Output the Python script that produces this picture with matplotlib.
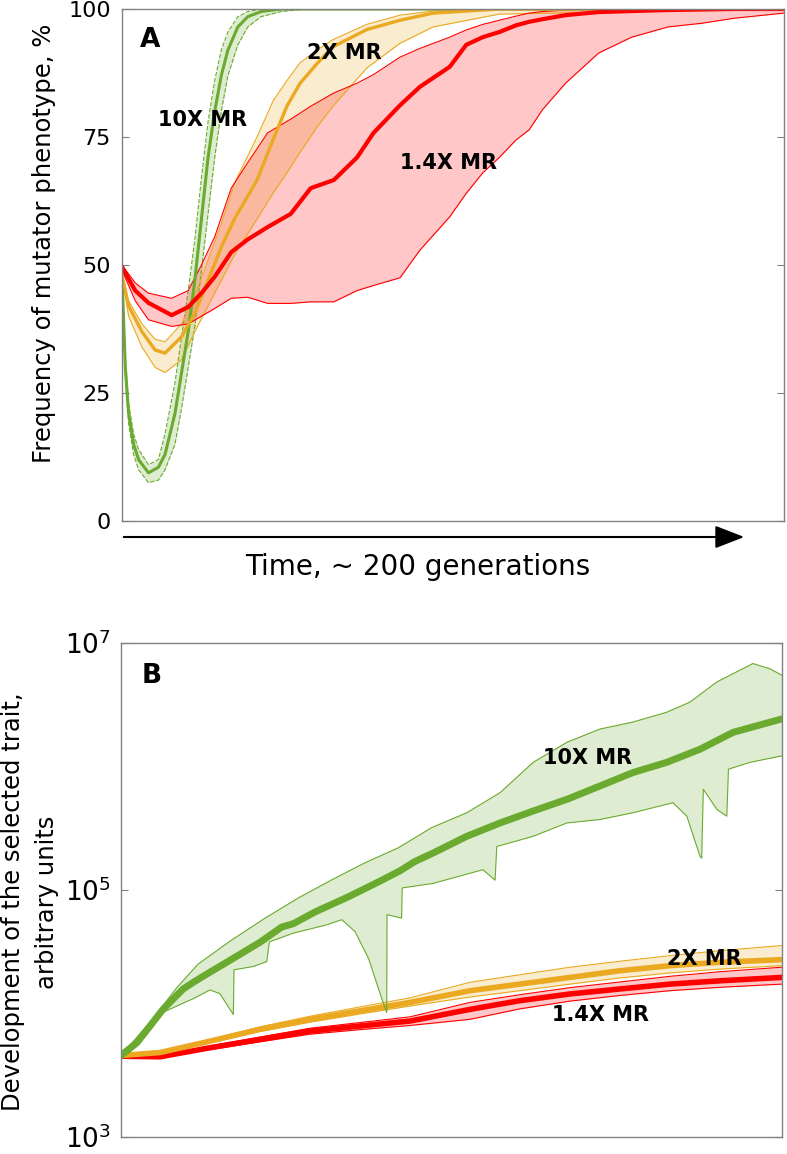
import numpy as np
import matplotlib
matplotlib.use("Agg")
import matplotlib.pyplot as plt
from matplotlib.ticker import NullLocator

# ---------------- panel A: frequency of mutator phenotype, % ----------------
# time axis has no scale in the original, ~200 generations in total
t_green_a = [0, 1, 2, 3.5, 5, 8, 11, 13, 16, 18, 20, 22, 24, 26, 28, 30, 32, 35, 38, 42, 48, 55, 200]
green_a_mid = [48, 30, 21, 15, 12, 9.4, 10.5, 13, 21, 29, 37, 47, 59, 71, 80, 87, 92, 96.5, 98.5, 99.5, 100, 100, 100]
green_a_hi = [48, 32, 23, 17, 14, 11, 12, 17, 27, 36, 45, 55, 67, 78, 86, 92, 95.5, 98.5, 99.5, 100, 100, 100, 100]
green_a_lo = [48, 28, 19, 13, 10, 7.5, 8, 10, 15, 22, 30, 38, 49, 60, 71, 80, 87, 93, 96.5, 98.5, 99.5, 100, 100]

t_orange_a = [0, 2, 6, 10, 13, 18, 22, 26, 30, 34, 40.8, 45.6, 49.8, 53.8, 59, 63.7, 74, 84, 94, 114, 200]
orange_a_mid = [48, 42, 37, 33.4, 32.8, 36, 40.6, 47, 53.5, 59, 66.6, 74.4, 81, 85.5, 89.4, 92.6, 96, 97.8, 99.2, 100, 100]
orange_a_hi = [48, 43, 38.5, 35.5, 35, 38.5, 44, 51, 58, 66, 75, 82, 86, 89.5, 92, 94, 97, 98.8, 99.6, 100, 100]
orange_a_lo = [48, 40, 34, 30, 29, 31.5, 37, 42, 47, 52, 59, 64, 68, 72, 77, 81, 88.5, 93.3, 96.5, 99, 100]

t_red_a = [0, 4, 8, 15, 20, 24, 28, 33, 38, 44, 51, 57, 64, 71, 76, 84, 90, 99, 104, 109, 114,
           119, 123, 127, 134, 144, 154, 165, 175, 185, 200]
red_a_mid = [49.6, 45, 42.6, 40.2, 41.8, 44.5, 47.7, 52.5, 55, 57.4, 60, 65, 66.6, 71, 75.8, 81.2, 84.8,
             88.7, 93, 94.5, 95.5, 96.8, 97.5, 98, 98.8, 99.4, 99.6, 99.8, 99.9, 100, 100]
red_a_hi = [50, 46.5, 44.5, 43.5, 45, 50, 55.5, 65, 70, 75.8, 78.5, 81, 83.6, 85.5, 87.2, 90.6, 92.3,
            94.5, 95.9, 97, 97.8, 98.6, 99.2, 99.5, 99.8, 100, 100, 100, 100, 100, 100]
red_a_lo = [49, 43, 39.3, 38, 38.5, 40, 41.5, 43.5, 43.7, 42.5, 42.5, 42.8, 42.8, 45, 46, 47.5, 52.9,
            59.4, 64, 68, 71, 74.4, 76.4, 80.3, 85.5, 91.4, 94.5, 96.5, 97.2, 98.2, 99.2]

freq_ticks = [0, 25, 50, 75, 100]

# ---------------- panel B: development of the selected trait ----------------
t_green_b = [0, 4.8, 8.8, 12.7, 18.8, 21.9, 26.9, 32, 38.5, 42.1, 48.6, 52.1, 58.7, 68.8, 78.9, 84.4,
             88.9, 94.4, 104.6, 114.7, 124.7, 134.9, 144.9, 154.9, 165.1, 175.2, 185.2, 200]
green_b_mid = [4.57e3, 5.79e3, 7.93e3, 1.08e4, 1.58e4, 1.79e4, 2.16e4, 2.60e4, 3.31e4, 3.78e4, 5.01e4,
               5.33e4, 6.64e4, 8.81e4, 1.20e5, 1.43e5, 1.70e5, 1.99e5, 2.72e5, 3.49e5, 4.36e5, 5.42e5,
               6.95e5, 8.93e5, 1.08e6, 1.38e6, 1.89e6, 2.43e6]

t_green_b_hi = [0, 8.8, 16.9, 23.3, 33.5, 43.6, 53.6, 63.8, 73.8, 83.8, 94, 104.6, 114.7, 124.7, 134.9,
                144.9, 154.9, 165.1, 172.2, 180.3, 191.2, 196.4, 200]
green_b_hi = [4.57e3, 8.51e3, 1.62e4, 2.51e4, 3.94e4, 5.92e4, 8.61e4, 1.21e5, 1.66e5, 2.19e5, 3.20e5,
              4.22e5, 6.14e5, 1.08e6, 1.57e6, 2.01e6, 2.29e6, 2.75e6, 3.33e6, 4.84e6, 6.82e6, 6.17e6, 5.48e6]

# lower bound has saw-tooth collapses, so some times repeat almost exactly
t_green_b_lo = [0, 8.8, 12.7, 16.9, 21.9, 26.9, 29.9, 34.0, 34.2, 40.0, 44.1, 44.9, 52.1, 62.1, 66.8,
                70.8, 74.9, 78.9, 80.4, 80.5, 84.9, 85.1, 94.4, 109.5, 113.2, 113.7, 124.7, 134.9,
                144.9, 154.9, 167, 171.2, 175.2, 175.7, 176.2, 180.3, 183.3, 183.8, 190.3, 200]
green_b_lo = [4.57e3, 7.94e3, 1.02e4, 1.15e4, 1.32e4, 1.55e4, 1.45e4, 9.8e3, 2.26e4, 2.40e4, 2.63e4,
              3.80e4, 4.47e4, 5.21e4, 5.75e4, 4.61e4, 2.79e4, 1.32e4, 1.02e4, 6.31e4, 5.92e4, 1.04e5,
              1.13e5, 1.46e5, 1.20e5, 2.25e5, 2.72e5, 3.49e5, 3.72e5, 4.22e5, 5.09e5, 3.96e5, 1.87e5,
              1.81e5, 6.53e5, 4.49e5, 3.96e5, 9.51e5, 1.08e6, 1.22e6]

t_b = [0, 11.8, 26.9, 42.1, 57.2, 72.3, 87.5, 105.6, 120.7, 135.9, 151.0, 166.1, 181.3, 200]
orange_b_mid = [4.57e3, 4.83e3, 5.97e3, 7.45e3, 8.97e3, 1.05e4, 1.23e4, 1.53e4, 1.73e4, 1.96e4, 2.22e4,
                2.44e4, 2.60e4, 2.73e4]
orange_b_hi = [4.57e3, 4.9e3, 6.15e3, 7.8e3, 9.5e3, 1.13e4, 1.34e4, 1.79e4, 2.06e4, 2.37e4, 2.65e4,
               2.94e4, 3.23e4, 3.55e4]
orange_b_lo = [4.57e3, 4.76e3, 5.8e3, 7.15e3, 8.5e3, 9.9e3, 1.15e4, 1.36e4, 1.53e4, 1.73e4, 1.94e4,
               2.13e4, 2.29e4, 2.44e4]
red_b_mid = [4.51e3, 4.46e3, 5.28e3, 6.17e3, 7.21e3, 7.92e3, 8.69e3, 1.08e4, 1.27e4, 1.44e4, 1.58e4,
             1.73e4, 1.84e4, 1.96e4]
red_b_hi = [4.51e3, 4.5e3, 5.45e3, 6.45e3, 7.6e3, 8.45e3, 9.4e3, 1.23e4, 1.42e4, 1.62e4, 1.80e4,
            2.0e4, 2.18e4, 2.37e4]
red_b_lo = [4.51e3, 4.42e3, 5.1e3, 5.9e3, 6.8e3, 7.4e3, 8.0e3, 8.97e3, 1.09e4, 1.26e4, 1.40e4,
            1.53e4, 1.63e4, 1.73e4]

trait_ticks = [1e3, 1e5, 1e7]

GREEN = "#6aaa2e"
ORANGE = "#eaa920"
RED = "#ff0000"
FRAME = "#808080"

plt.rcParams["font.family"] = "DejaVu Sans"
plt.rcParams["mathtext.fontset"] = "dejavusans"

fig = plt.figure(figsize=(7.87, 11.54), dpi=100)
W, H = 787.0, 1154.0


def px_axes(left, top, right, bottom):
    return fig.add_axes([left / W, 1 - bottom / H, (right - left) / W, (bottom - top) / H])


def style_frame(ax, size, pad):
    for sp in ax.spines.values():
        sp.set_color(FRAME)
        sp.set_linewidth(1.0)
    ax.set_xticks([])
    ax.tick_params(axis="y", direction="in", length=5, width=0.8, color=FRAME,
                   left=True, right=True, labelsize=size, pad=pad)


def band(ax, t, lo, hi, color, edge_ls="-"):
    ax.fill_between(t, lo, hi, color=color, alpha=0.22, lw=0)
    ax.plot(t, lo, color=color, lw=0.8, ls=edge_ls)
    ax.plot(t, hi, color=color, lw=0.8, ls=edge_ls)


# ---------------- A ----------------
axA = px_axes(122, 9, 784, 521)
band(axA, t_green_a, green_a_lo, green_a_hi, GREEN, edge_ls=(0, (4, 1.5)))
band(axA, t_orange_a, orange_a_lo, orange_a_hi, ORANGE)
band(axA, t_red_a, red_a_lo, red_a_hi, RED)
axA.plot(t_green_a, green_a_mid, color=GREEN, lw=2.2)
axA.plot(t_orange_a, orange_a_mid, color=ORANGE, lw=2.4)
axA.plot(t_red_a, red_a_mid, color=RED, lw=3.0)

axA.set_xlim(0, 200)
axA.set_ylim(0, 100)
axA.set_yticks(freq_ticks)
style_frame(axA, 16, 8)

axA.text(0.042, 0.94, "A", transform=axA.transAxes, fontsize=19, fontweight="bold",
         ha="center", va="center")
lab = dict(fontsize=15, fontweight="bold", ha="center", va="center")
axA.text(24.2, 78.3, "10X MR", **lab)
axA.text(67.2, 91.4, "2X MR", **lab)
axA.text(98.6, 69.9, "1.4X MR", **lab)

fig.text(44 / W, 1 - 243 / H, "Frequency of mutator phenotype, %", rotation=90,
         ha="center", va="center", fontsize=17.5)

# time arrow under panel A
fig.add_artist(plt.matplotlib.patches.FancyArrowPatch(
    (121 / W, 1 - 537 / H), (747 / W, 1 - 537 / H), transform=fig.transFigure,
    arrowstyle="-|>,head_length=0.9,head_width=0.35", mutation_scale=20,
    lw=1.5, color="black"))
fig.text(418 / W, 1 - 575 / H, "Time, ~ 200 generations", ha="center", va="baseline",
         fontsize=20)

# ---------------- B ----------------
axB = px_axes(121, 643, 782, 1137)
axB.set_yscale("log")
band(axB, t_b, red_b_lo, red_b_hi, RED)
axB.plot(t_b, red_b_mid, color=RED, lw=4)
band(axB, t_b, orange_b_lo, orange_b_hi, ORANGE)
axB.plot(t_b, orange_b_mid, color=ORANGE, lw=4)

poly_t = np.concatenate([t_green_b_hi, t_green_b_lo[::-1]])
poly_v = np.concatenate([green_b_hi, green_b_lo[::-1]])
axB.fill(poly_t, poly_v, color=GREEN, alpha=0.22, lw=0)
axB.plot(t_green_b_hi, green_b_hi, color=GREEN, lw=0.8)
axB.plot(t_green_b_lo, green_b_lo, color=GREEN, lw=0.8)
axB.plot(t_green_b, green_b_mid, color=GREEN, lw=5)

axB.set_xlim(0, 200)
axB.set_ylim(1e3, 1e7)
axB.set_yticks(trait_ticks)
axB.yaxis.set_minor_locator(NullLocator())
style_frame(axB, 19, 7)

axB.text(0.047, 0.933, "B", transform=axB.transAxes, fontsize=19, fontweight="bold",
         ha="center", va="center")
axB.text(141.3, 1.18e6, "10X MR", **lab)
axB.text(176.4, 2.75e4, "2X MR", **lab)
axB.text(145.0, 9.7e3, "1.4X MR", **lab)

fig.text(30 / W, 1 - 902 / H, "Development of the selected trait,\narbitrary units", rotation=90,
         ha="center", va="center", multialignment="center", fontsize=17.5, linespacing=1.5)

fig.savefig("out.png", dpi=100)
